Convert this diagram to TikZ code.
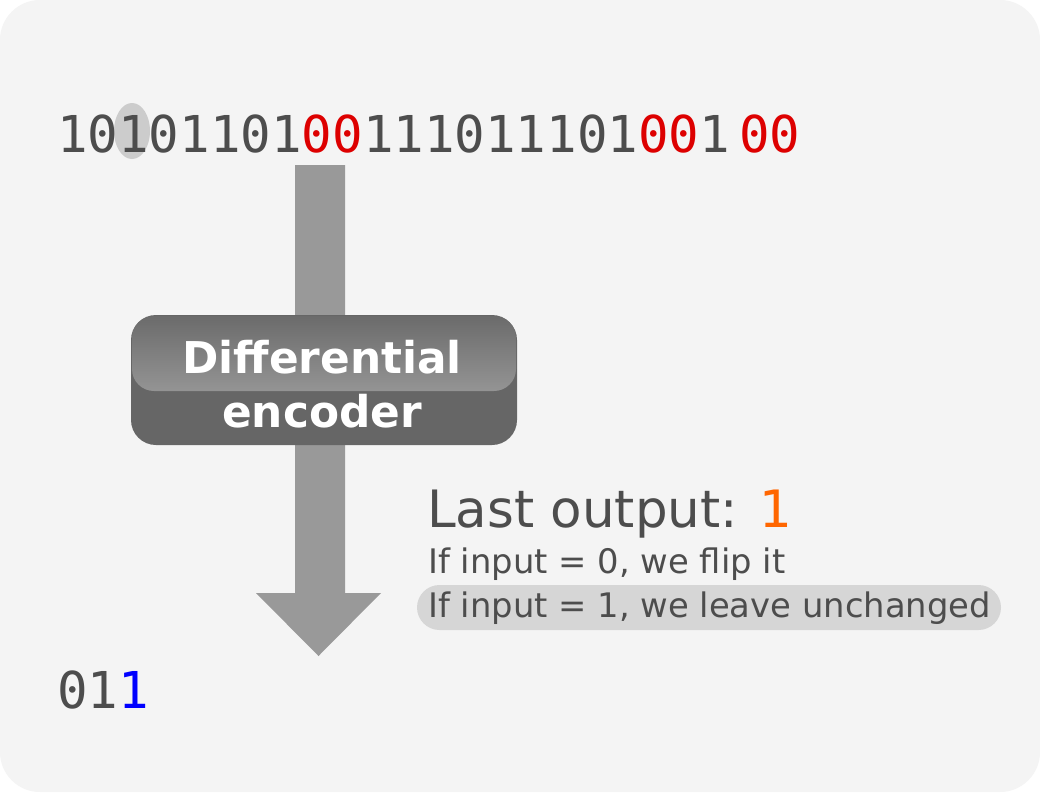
\documentclass[tikz,border=0pt]{standalone}
\usepackage{fontspec}
\setmainfont{DejaVu Sans}
\setmonofont{DejaVu Sans Mono}
\definecolor{ink}{HTML}{4D4D4D}
\definecolor{paper}{HTML}{F4F4F4}
\definecolor{flipred}{HTML}{DD0000}
\definecolor{lastorange}{HTML}{FF6600}
\definecolor{outblue}{HTML}{0000FF}
\def\flip#1{\textcolor{flipred}{#1}}

\begin{document}
\begin{tikzpicture}[x=1pt,y=-1pt,
    bits/.style={anchor=base west,inner sep=0,text=ink,font=\ttfamily\fontsize{50.8}{60}\selectfont},
    say/.style={anchor=base west,inner sep=0,text=ink,font=\fontsize{#1}{#1}\selectfont},
    encbox/.style={fill=black!60,rounded corners=25pt,minimum width=386pt,minimum height=130pt,inner sep=0},
    enctext/.style={text=white,align=center,font=\bfseries\fontsize{43.8}{54}\selectfont,inner sep=0}]
    \useasboundingbox (0,0) rectangle (1040,792);
    \fill[white] (0,0) rectangle (1040,792);
    \fill[paper,rounded corners=40pt] (0,0) rectangle (1040,792);
    % input bits
    \fill[black!20] (132,131) ellipse [x radius=18,y radius=28];
    \node[bits] (in) at (57,152) {10101101\flip{00}111011101\flip{00}1\hspace{9pt}\flip{00}};
    % block arrow
    \fill[black!40] (295,165) -- (345,165) -- (345,593) -- (381,593) -- (318.5,656)
      -- (256,593) -- (295,593) -- cycle;
    % encoder
    \node[encbox] (enc) at (324,380) {};
    \shade[top color=black!58,bottom color=black!42,rounded corners=22pt] (132,316) rectangle (516,391);
    \node[enctext] (enclabel) at (322,384) {Differential\\encoder};
    % rule
    \fill[black!16,rounded corners=22.5pt] (417,585) rectangle (1001,630);
    \node[say=51.5] (last) at (427,527) {Last output: \textcolor{lastorange}{1}};
    \node[say=33.8] (rule0) at (428,573) {If input = 0, we flip it};
    \node[say=33.8] (rule1) at (428,617) {If input = 1, we leave unchanged};
    % output bits
    \node[bits] (out) at (57,708) {01\textcolor{outblue}{1}};
\end{tikzpicture}
\end{document}
